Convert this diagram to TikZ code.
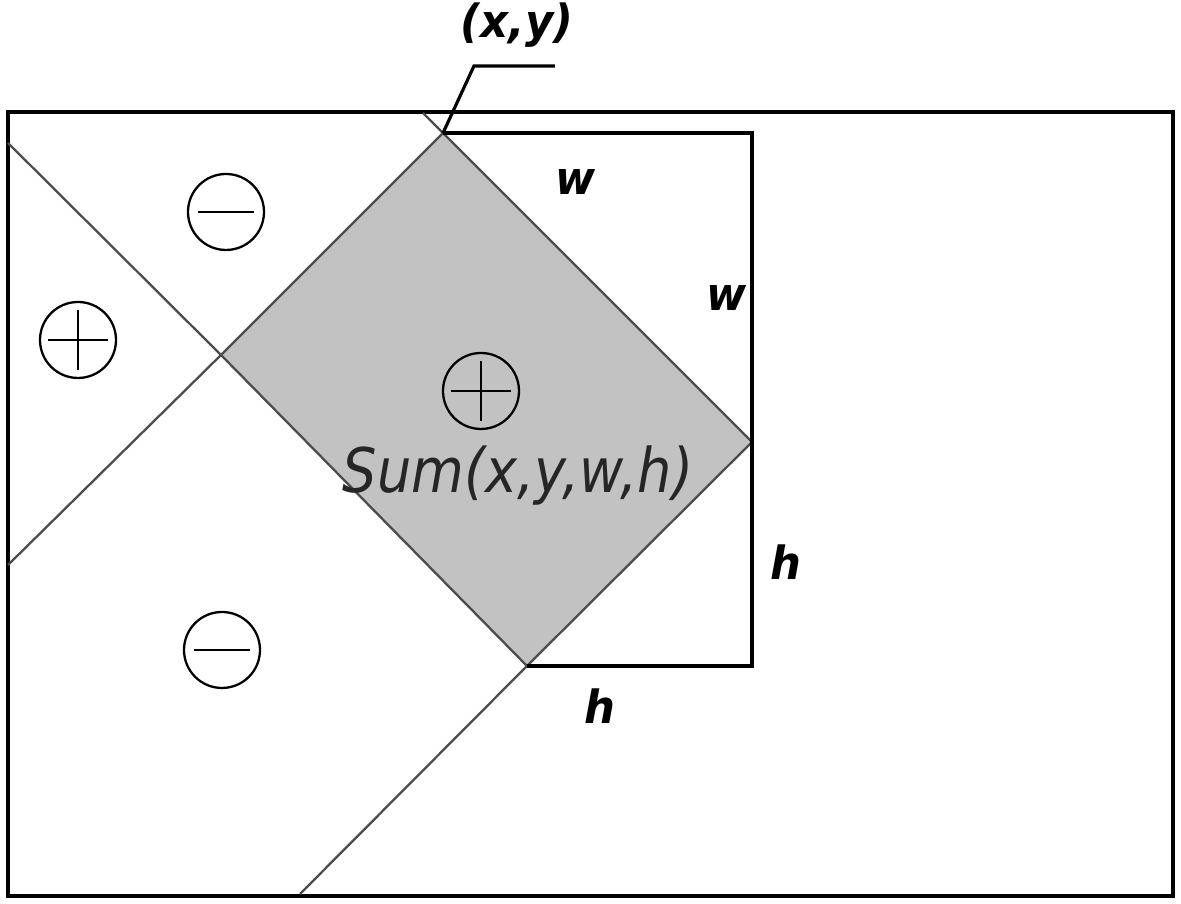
\documentclass[tikz,border=0pt]{standalone}
\usepackage{fontspec}
\setmainfont{DejaVu Sans}
\begin{document}
\begin{tikzpicture}[x=0.1mm,y=-0.1mm,
  frame/.style={line width=1.1pt,black},
  diag/.style={line width=0.65pt,black!70},
  sign/.style={circle,draw,line width=0.65pt,inner sep=0pt,minimum size=7.6mm},
  lbl/.style={font=\bfseries\itshape\fontsize{13}{13}\selectfont,xscale=0.95,inner sep=0pt}]

 \useasboundingbox (0,0) rectangle (1181,904);

 % nodes
 \coordinate (A) at (443,133);
 \coordinate (B) at (752,442);
 \coordinate (C) at (527,666);
 \coordinate (D) at (221,355);
 \coordinate (E) at (752,133);
 \coordinate (F) at (752,666);

 % shaded window
 \fill[gray!48] (A) -- (B) -- (C) -- (D) -- cycle;

 % boundary
 \draw[frame] (8,112) rectangle (1173,896);

 % diagonals
 \coordinate (P) at (8,143);
 \coordinate (Q) at (8,565);
 \coordinate (R) at (423,113);
 \coordinate (S) at (300,894);
 \draw[diag] (P) -- (D) -- (C);
 \draw[diag] (Q) -- (D) -- (A);
 \draw[diag] (R) -- (A) -- (B);
 \draw[diag] (B) -- (C) -- (S);

 % sides
 \draw[frame] (A) -- (E) -- (B);
 \draw[frame] (B) -- (F) -- (C);

 % callout
 \coordinate (K) at (474,66);
 \coordinate (L) at (555,66);
 \draw[line width=0.9pt] (A) -- (K) -- (L);
 \node[lbl] (xy) at (517,25) {(x,y)};

 % signs
 \node[sign] (m1) at (226,212) {};
 \node[sign] (p1) at (78,340) {};
 \node[sign] (p2) at (481,391) {};
 \node[sign] (m2) at (222,650) {};
 \draw[line width=0.65pt] ([xshift=-2.8mm]m1.center) -- ([xshift=2.8mm]m1.center);
 \draw[line width=0.65pt] ([xshift=-2.8mm]m2.center) -- ([xshift=2.8mm]m2.center);
 \draw[line width=0.65pt] ([xshift=-3mm]p1.center) -- ([xshift=3mm]p1.center);
 \draw[line width=0.65pt] ([yshift=-3mm]p1.center) -- ([yshift=3mm]p1.center);
 \draw[line width=0.65pt] ([xshift=-3mm]p2.center) -- ([xshift=3mm]p2.center);
 \draw[line width=0.65pt] ([yshift=-3mm]p2.center) -- ([yshift=3mm]p2.center);

 % legend
 \node[lbl] (w1) at (576,182) {w};
 \node[lbl] (w2) at (727,298) {w};
 \node[lbl] (h1) at (786,562) {h};
 \node[lbl] (h2) at (600,706) {h};
 \node[font=\itshape\fontsize{17.5}{17.5}\selectfont,text=black!85,xscale=0.88,inner sep=0pt] (sum) at (518,476) {Sum(x,y,w,h)};
\end{tikzpicture}
\end{document}
